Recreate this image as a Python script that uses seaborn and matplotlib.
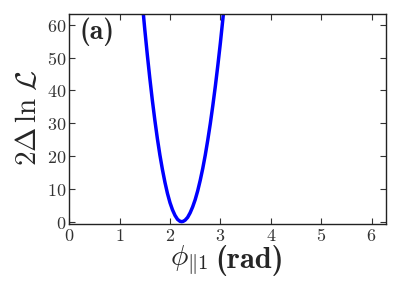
import os
import numpy as np
import pandas as pd
import seaborn as sns
import matplotlib
matplotlib.use("Agg")
import matplotlib.pyplot as plt
from matplotlib.font_manager import FontProperties

# Data
phi = [1.45, 1.50, 1.55, 1.60, 1.65, 1.70, 1.75, 1.80, 1.85, 1.90, 1.95,
       2.00, 2.05, 2.10, 2.15, 2.20, 2.23, 2.26, 2.30, 2.35, 2.40, 2.45,
       2.50, 2.55, 2.60, 2.65, 2.70, 2.75, 2.80, 2.85, 2.90, 2.95, 3.00,
       3.05, 3.10]
dlnl = [66.9, 58.6, 50.9, 43.7, 37.0, 30.9, 25.3, 20.3, 15.9, 12.0, 8.6,
        5.8, 3.6, 1.9, 0.7, 0.1, 0.0, 0.08, 0.45, 1.3, 2.7, 4.5,
        6.7, 9.4, 12.6, 16.2, 20.3, 24.9, 29.9, 35.4, 41.3, 47.7, 54.5,
        61.9, 69.6]
xticks = [0, 1, 2, 3, 4, 5, 6]
yticks = [0, 10, 20, 30, 40, 50, 60]

sns.set_style("ticks")
plt.rcParams["mathtext.fontset"] = "cm"
plt.rcParams["font.family"] = ["DejaVu Serif"]

cmb_path = os.path.join(matplotlib.get_data_path(), "fonts", "ttf", "cmb10.ttf")
cmb = FontProperties(fname=cmb_path) if os.path.exists(cmb_path) else FontProperties(family="DejaVu Serif", weight="bold")

df = pd.DataFrame({"phi": phi, "dlnl": dlnl})

fig = plt.figure(figsize=(4.07, 2.81), dpi=100)
ax = fig.add_axes([0.170, 0.203, 0.778, 0.747])
sns.lineplot(data=df, x="phi", y="dlnl", ax=ax, color="#0000ff", linewidth=2.5,
             sort=False)

ax.set_xlim(0, 2 * np.pi)
ax.set_ylim(-0.7, 63.3)
ax.set_xticks(xticks)
ax.set_yticks(yticks)
ax.set_xticklabels([f"${v}$" for v in xticks], fontsize=13, color="#333333")
ax.set_yticklabels([f"${v}$" for v in yticks], fontsize=13, color="#333333")
ax.tick_params(direction="in", top=True, right=True, length=4, width=0.8,
               pad=2, colors="#333333", labelcolor="#333333")
for s in ax.spines.values():
    s.set_linewidth(1.0)
    s.set_color("#222222")

ax.set_xlabel("")
ax.set_ylabel(r"$2\Delta\,\ln\,\mathcal{L}$", fontsize=21)
ax.yaxis.set_label_coords(-0.085, 0.507)

# x label: math part + bold CM "(rad)"
fp_rad = cmb.copy()
fp_rad.set_size(22)
fig.text(170 / 407, 0.054, r"$\phi_{\Vert 1}$", fontsize=21, ha="left", va="baseline")
fig.text(215 / 407, 0.046, "(rad)", fontproperties=fp_rad, ha="left", va="baseline")

fp_a = cmb.copy()
fp_a.set_size(20)
ax.text(0.0315, 0.879, "(a)", transform=ax.transAxes, fontproperties=fp_a,
        ha="left", va="baseline")

fig.savefig("out.png", dpi=100)
